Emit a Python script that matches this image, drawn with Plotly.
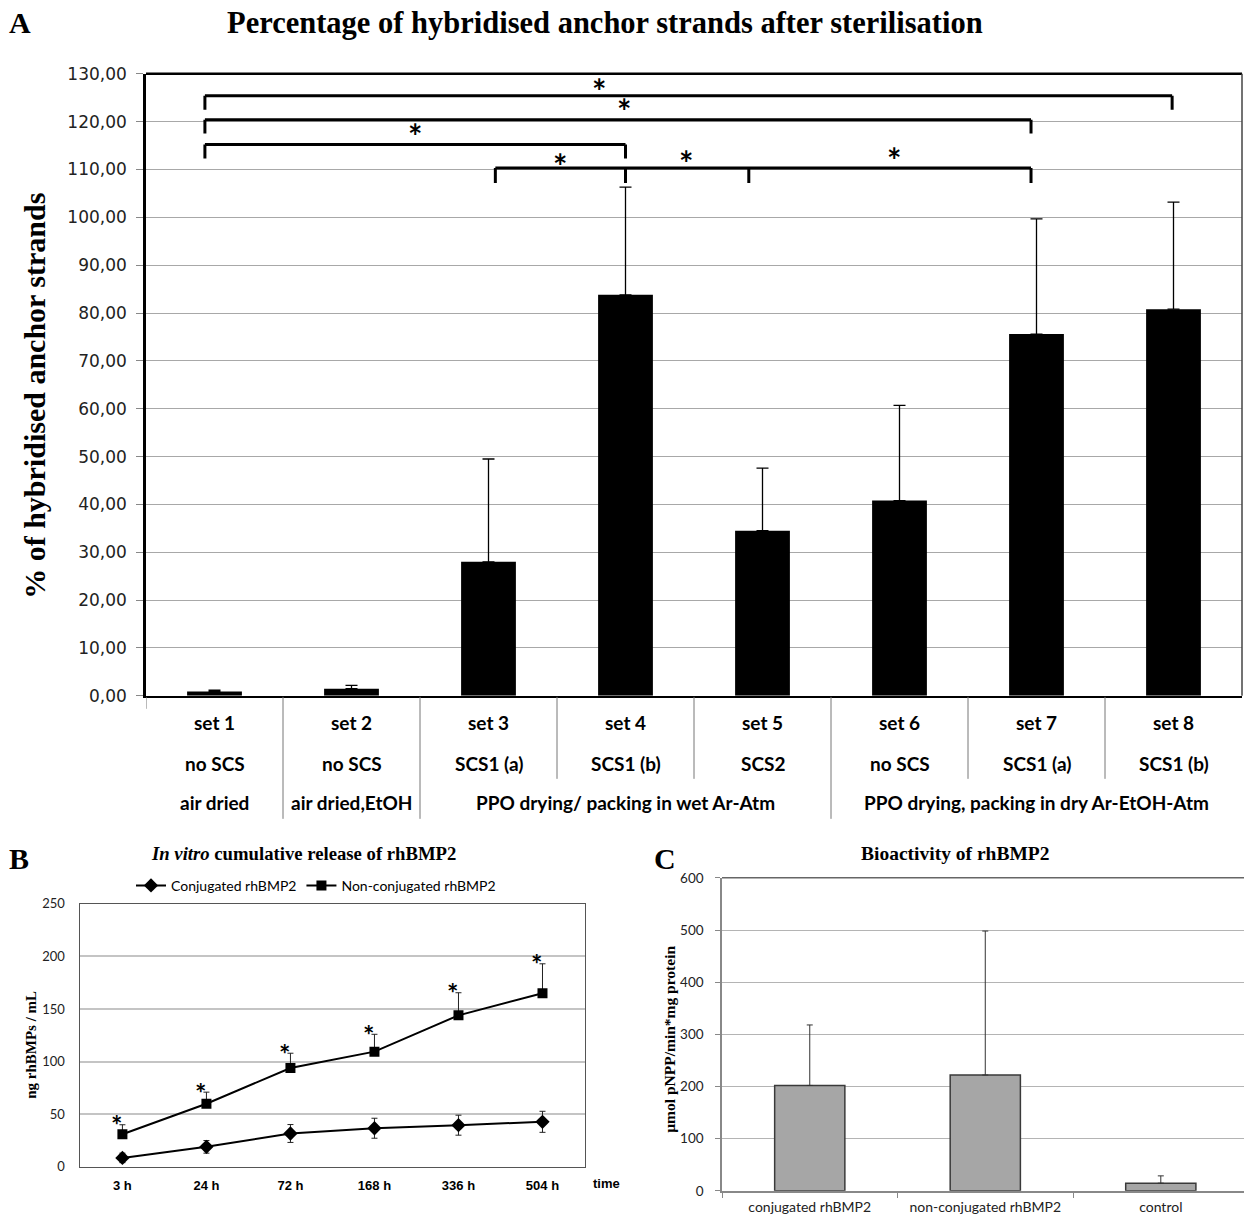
import plotly.graph_objects as go

W, H = 1244, 1215

# ---------------- Panel A data ----------------
a_sets = ["set 1", "set 2", "set 3", "set 4", "set 5", "set 6", "set 7", "set 8"]
a_scs = ["no SCS", "no SCS", "SCS1 (a)", "SCS1 (b)", "SCS2", "no SCS", "SCS1 (a)", "SCS1 (b)"]
a_groups = ["air dried", "air dried,EtOH", "PPO drying/ packing in wet Ar-Atm",
            "PPO drying, packing in dry Ar-EtOH-Atm"]
a_group_center = [0, 1, 3, 6]
a_values = [0.9, 1.5, 28.0, 83.8, 34.5, 40.8, 75.6, 80.8]
a_err = [0.3, 0.7, 21.5, 22.5, 13.1, 19.9, 24.1, 22.4]
a_yticks = [0, 10, 20, 30, 40, 50, 60, 70, 80, 90, 100, 110, 120, 130]
# significance brackets: (legs as category positions, line level, leg end level)
a_brackets = [
    ([-0.07, 6.99], 125.4, 122.5),
    ([-0.07, 5.96], 120.4, 117.5),
    ([-0.07, 3.0], 115.2, 112.3),
    ([2.05, 3.0, 3.9, 5.96], 110.3, 107.2),
]
a_stars_x = [2.81, 2.99, 1.46, 2.52, 3.44, 4.96]
a_stars_y = [127.9, 123.7, 118.5, 112.4, 112.9, 113.5]

# ---------------- Panel B data ----------------
b_times = ["3 h", "24 h", "72 h", "168 h", "336 h", "504 h"]
b_conj = [8.5, 19, 31.7, 36.7, 39.6, 42.8]
b_conj_err = [4.5, 6, 8.5, 9.5, 9.5, 10]
b_nonconj = [31, 60, 94, 109.5, 144, 165]
b_nonconj_err = [9, 11, 14, 16.5, 21.5, 28]

# ---------------- Panel C data ----------------
c_cats = ["conjugated rhBMP2", "non-conjugated rhBMP2", "control"]
c_values = [202, 222, 14.7]
c_err = [116, 276, 14]

# vertical correction measured for the capture (page is captured slightly taller)
V_OFF, V_SCALE = 9.2, 0.9835


def px(x):
    return x / W


def py(y):
    return 1 - ((y - V_OFF) / V_SCALE) / H


SERIF = "Liberation Serif"
SANS = "Lato"

fig = go.Figure()

# Panel A bars
fig.add_trace(go.Bar(
    x=list(range(len(a_values))), y=a_values, width=0.4,
    marker=dict(color="black", line=dict(width=0)),
    error_y=dict(type="data", array=a_err, arrayminus=[0] * len(a_err), symmetric=False,
                 thickness=1.3, width=6, color="black"),
    xaxis="x", yaxis="y", showlegend=False))

# Panel B lines
fig.add_trace(go.Scatter(
    x=b_times, y=b_conj, mode="lines+markers", name="Conjugated rhBMP2",
    line=dict(color="black", width=2), marker=dict(symbol="diamond", size=11, color="black"),
    error_y=dict(type="data", array=b_conj_err, thickness=1, width=3, color="#222"),
    xaxis="x2", yaxis="y2"))
fig.add_trace(go.Scatter(
    x=b_times, y=b_nonconj, mode="lines+markers", name="Non-conjugated rhBMP2",
    line=dict(color="black", width=2), marker=dict(symbol="square", size=10, color="black"),
    error_y=dict(type="data", array=b_nonconj_err, arrayminus=[0] * 6, symmetric=False,
                 thickness=1, width=3, color="#222"),
    xaxis="x2", yaxis="y2"))

# Panel C bars
fig.add_trace(go.Bar(
    x=c_cats, y=c_values, width=0.4,
    marker=dict(color="#a6a6a6", line=dict(color="#3a3a3a", width=1.5)),
    error_y=dict(type="data", array=c_err, arrayminus=[0] * 3, symmetric=False,
                 thickness=1, width=3, color="#333"),
    xaxis="x3", yaxis="y3", showlegend=False))

shapes = []
annotations = []


def ann(x, y, text, family, size, bold=True, xref="paper", yref="paper", angle=0,
        color="black", xshift=0, yshift=0):
    annotations.append(dict(
        x=x, y=y, xref=xref, yref=yref, text=text, showarrow=False, textangle=angle,
        xanchor="center", yanchor="middle", xshift=xshift, yshift=yshift,
        font=dict(family=family, size=size, color=color, weight="bold" if bold else "normal")))


# ---- Panel A frame and decorations
a_x0, a_x1, a_y0, a_y1 = 146, 1242, 695, 73
shapes.append(dict(type="line", xref="paper", yref="paper", x0=px(a_x0), x1=px(a_x1),
                   y0=py(a_y1), y1=py(a_y1), line=dict(color="black", width=2.5)))
shapes.append(dict(type="line", xref="paper", yref="paper", x0=px(a_x1), x1=px(a_x1),
                   y0=py(a_y0), y1=py(a_y1), line=dict(color="#444", width=1.5)))
# separators under category axis
for b in [0.5, 1.5, 2.5, 3.5, 4.5, 5.5, 6.5]:
    full = b in (0.5, 1.5, 4.5)
    shapes.append(dict(type="line", xref="x", yref="paper", x0=b, x1=b,
                       y0=py(696), y1=py(818 if full else 778),
                       line=dict(color="#777", width=1)))
shapes.append(dict(type="line", xref="x", yref="paper", x0=-0.5, x1=-0.5,
                   y0=py(696), y1=py(708), line=dict(color="#777", width=1)))
# brackets
for legs, lvl, end in a_brackets:
    path = ""
    for lx in legs:
        path += f"M {lx} {end} L {lx} {lvl} "
    path += f"M {legs[0]} {lvl} L {legs[-1]} {lvl}"
    shapes.append(dict(type="path", xref="x", yref="y", path=path,
                       line=dict(color="black", width=3)))
for sx, sy in zip(a_stars_x, a_stars_y):
    ann(sx, sy, "*", SANS, 34, xref="x", yref="y", yshift=-7)
# category labels
for i, (s, c) in enumerate(zip(a_sets, a_scs)):
    ann(i, py(722), s, SANS, 19, xref="x")
    ann(i, py(763), c, SANS, 19, xref="x")
for g, cx in zip(a_groups, a_group_center):
    ann(cx, py(802), g, SANS, 19, xref="x")
ann(px(35), py(395), "% of hybridised anchor strands", SERIF, 30, angle=-90)
ann(px(605), py(22), "Percentage of hybridised anchor strands after sterilisation", SERIF, 30.5)
ann(px(20), py(22), "A", SERIF, 30)

# ---- Panel B decorations
for i, t in enumerate(b_times):
    ann(t, b_nonconj[i] + b_nonconj_err[i], "*", SANS, 27, xref="x2", yref="y2",
        xshift=-6, yshift=0)
ann(px(606), py(1183), "time", "Liberation Sans", 13)
ann(px(303), py(853), "<i>In vitro</i> cumulative release of rhBMP2", SERIF, 18.7)
ann(px(19), py(858), "B", SERIF, 30)
ann(px(31), py(1044), "ng rhBMPs / mL", SERIF, 15, angle=-90)

# ---- Panel C decorations
shapes.append(dict(type="line", xref="paper", yref="paper", x0=px(722), x1=1,
                   y0=py(877), y1=py(877), line=dict(color="#666", width=1.5)))
ann(px(955), py(853), "Bioactivity of rhBMP2", SERIF, 19.5)
ann(px(665), py(858), "C", SERIF, 30)
ann(px(670), py(1038), "µmol pNPP/min*mg protein", SERIF, 15.5, angle=-90)

fig.update_layout(
    width=W, height=H, margin=dict(l=0, r=0, t=0, b=0),
    paper_bgcolor="white", plot_bgcolor="white",
    separators=",.",
    bargap=0.6,
    shapes=shapes, annotations=annotations,
    legend=dict(orientation="h", x=px(131), y=py(869), xanchor="left", yanchor="top",
                font=dict(family=SANS, size=14, color="black"), itemwidth=30,
                bgcolor="rgba(0,0,0,0)", tracegroupgap=0),
    xaxis=dict(domain=[px(a_x0), px(a_x1)], range=[-0.5, 7.5], showticklabels=False,
               showgrid=False, zeroline=False, showline=True, linecolor="black", linewidth=2,
               anchor="y", fixedrange=True),
    yaxis=dict(domain=[py(a_y0), py(a_y1)], range=[0, 130], tickvals=a_yticks, tickformat=".2f",
               showgrid=True, gridcolor="#a8a8a8", gridwidth=1.3, zeroline=False,
               showline=True, linecolor="black", linewidth=2.5, ticks="outside", ticklen=7,
               tickcolor="#888", tickfont=dict(family="DejaVu Sans", size=17, color="#222"),
               ticklabelstandoff=6, anchor="x"),
    xaxis2=dict(domain=[px(80.4), px(584.5)], range=[-0.5, 5.5], showgrid=False, zeroline=False,
                showline=True, mirror=True, linecolor="#555", linewidth=1, anchor="y2",
                tickfont=dict(family="Liberation Sans", size=13, color="black", weight="bold"),
                ticklabelstandoff=7),
    yaxis2=dict(domain=[py(1166), py(903)], range=[0, 250], dtick=50, showgrid=True,
                gridcolor="#c4c4c4", gridwidth=1.5, zeroline=False, showline=True, mirror=True,
                linecolor="#555", linewidth=1, anchor="x2",
                tickfont=dict(family=SANS, size=13, color="#222"), ticklabelstandoff=12),
    xaxis3=dict(domain=[px(722), 1], range=[-0.5, 2.474], showgrid=False, zeroline=False,
                showline=True, linecolor="#888", linewidth=1.5, ticks="outside", tickson="boundaries",
                ticklen=5, tickcolor="#888", anchor="y3", ticklabelstandoff=3,
                tickfont=dict(family=SANS, size=14, color="#222")),
    yaxis3=dict(domain=[py(1190), py(877)], range=[0, 600], dtick=100, showgrid=True,
                gridcolor="#b4b4b4", gridwidth=1.3, zeroline=False, showline=True,
                linecolor="#888", linewidth=1.5, ticks="outside", ticklen=5, tickcolor="#888",
                ticklabelstandoff=9, anchor="x3", tickfont=dict(family=SANS, size=13.5, color="#222")),
)

fig.write_html(
    "out.html",
    config={"displayModeBar": False},
    post_script=("document.documentElement.style.margin='0';"
                 "document.body.style.margin='0';"
                 "document.body.style.overflow='hidden';"
                 "var d=document.getElementById('{plot_id}');"
                 "d.style.position='fixed';d.style.top='0px';d.style.left='0px';"))
